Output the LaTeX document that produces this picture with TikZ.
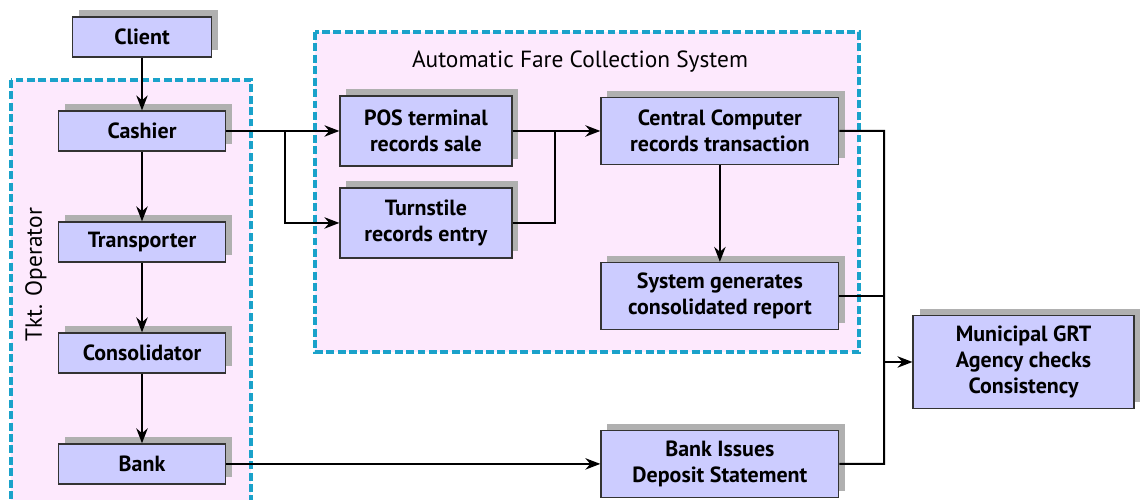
\documentclass[tikz,border=0pt]{standalone}
\usepackage{fontspec}
\setmainfont{PT Sans}
\usetikzlibrary{shadows,arrows.meta}
\definecolor{boxfill}{HTML}{CCCCFF}
\definecolor{zonefill}{HTML}{FDE9FD}
\definecolor{zoneline}{HTML}{1AA2CA}

\begin{document}
\begin{tikzpicture}[x=0.02cm, y=0.02cm, node distance=2cm, line width=0.04cm, font=\fontsize{13.3}{16}\selectfont]
        \tikzstyle{block} = [rectangle, draw=black!80, line width=0.7pt, fill=boxfill, align=center, font=\fontsize{12.5}{14.8}\selectfont\bfseries, minimum width=3.34cm, minimum height=0.8cm, drop shadow={shadow xshift=0.13cm, shadow yshift=0.13cm, fill=black!31, opacity=1}]
        \tikzstyle{zone} = [draw=zoneline, fill=zonefill, line width=1.8pt, dash pattern=on 4.5pt off 2pt]
        \tikzstyle{line} = [draw, -{Stealth[length=8.5pt, width=6.5pt]}, line width=0.04cm]

        \useasboundingbox (0,0) rectangle (1143,500);
        \path [zone] (11,420) rectangle (251,-20);
        \path [zone] (315,468) rectangle (859,148);
        \node (afc) at (580,438) {Automatic Fare Collection System};
        \node [rotate=90] (tkt) at (36,225) {Tkt. Operator};

        \node [block, minimum width=2.78cm] (client) at (142,463) {Client};
        \node [block, below of=client, node distance=1.88cm] (cashier) {Cashier};
        \node [block, below of=cashier, node distance=2.22cm] (trans) {Transporter};
        \node [block, below of=trans, node distance=2.22cm] (consol) {Consolidator};
        \node [block, below of=consol, node distance=2.22cm] (bank) {Bank};

        \node [block, right of=cashier, node distance=5.68cm, minimum width=3.44cm, minimum height=1.4cm] (pos) {POS terminal \\ records sale};
        \node [block, below of=pos, node distance=1.84cm, minimum width=3.44cm, minimum height=1.4cm] (turn) {Turnstile \\ records entry};
        \node [block, right of=pos, node distance=5.88cm, minimum width=4.76cm, minimum height=1.34cm] (central) {Central Computer \\ records transaction};
        \node [block, below of=central, node distance=3.3cm, minimum width=4.76cm, minimum height=1.34cm] (report) {System generates \\ consolidated report};
        \node [block, right of=bank, node distance=11.56cm, minimum width=4.76cm, minimum height=1.34cm] (deposit) {Bank Issues \\ Deposit Statement};
        \node [block, minimum width=4.42cm, minimum height=1.86cm] (grt) at (1023.5,138) {Municipal GRT \\ Agency checks \\ Consistency};

        \coordinate (forkA) at (285,369);
        \coordinate (forkB) at (555,369);
        \coordinate (busTop) at (884,369);

        \path [line] (client) -- (cashier);
        \path [line] (cashier) -- (trans);
        \path [line] (trans) -- (consol);
        \path [line] (consol) -- (bank);
        \path [line] (cashier) -- (pos);
        \path [line] (forkA) |- (turn.west);
        \draw (turn.east) -| (forkB);
        \path [line] (pos) -- (central);
        \path [line] (central) -- (report);
        \path [line] (bank) -- (deposit);
        \draw (central.east) -- (busTop) |- (deposit.east);
        \draw (report.east) -- (report.east -| busTop);
        \path [line] (busTop |- grt.west) -- (grt.west);
    \end{tikzpicture}
\end{document}
